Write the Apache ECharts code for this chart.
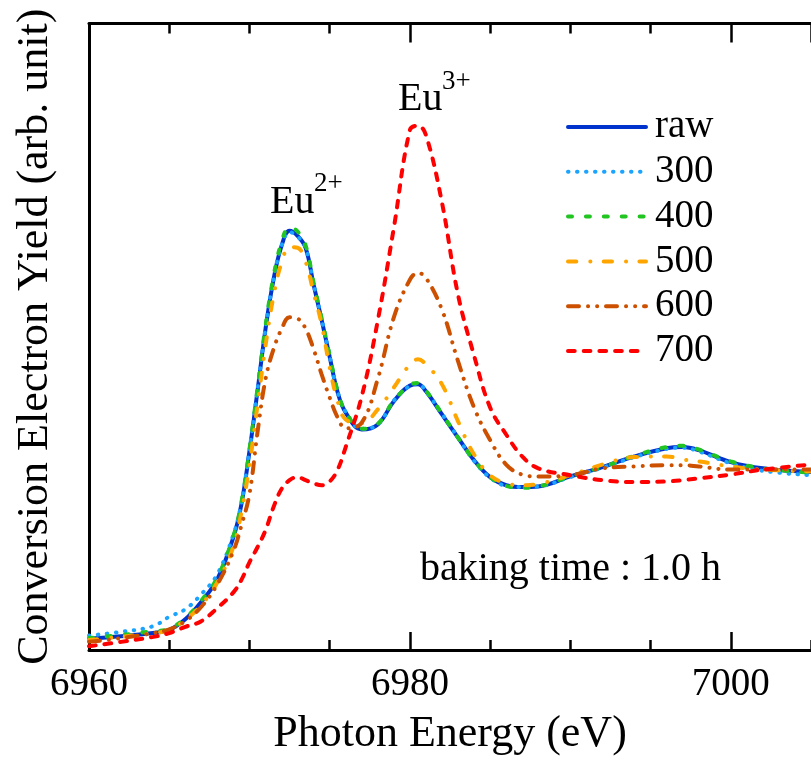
<!DOCTYPE html>
<html>
<head>
<meta charset="utf-8">
<title>Conversion Electron Yield</title>
<style>html,body{margin:0;padding:0;background:#fff;}</style>
</head>
<body>
<div id="main" style="width:811px;height:761px;"></div>
<script src="https://cdn.jsdelivr.net/npm/echarts@6/dist/echarts.min.js"></script>
<script>
// photon energy (eV), shared by all curves
var energy = [6960, 6962, 6964, 6965, 6966, 6967, 6968, 6969, 6969.5, 6970,
  6970.5, 6971, 6971.5, 6972, 6972.5, 6973, 6973.5, 6974, 6974.5, 6975,
  6975.5, 6976, 6977, 6978, 6979, 6980, 6980.5, 6981, 6982, 6983,
  6984, 6985, 6986, 6987, 6988, 6990, 6992, 6994, 6996, 6997,
  6998, 7000, 7002, 7005];

// yield (arb. unit)
var raw = [1.8, 2.2, 2.7, 3.2, 4.9, 7.7, 11.3, 18.0, 23.3, 31.7,
  41.3, 51.2, 59.1, 64.5, 66.9, 66.1, 64.2, 58.3, 52.7, 46.8,
  41.1, 37.9, 35.2, 36.0, 39.7, 42.2, 42.4, 41.3, 37.6, 33.9,
  30.3, 27.6, 26.3, 26.0, 26.1, 27.7, 29.2, 30.9, 32.2, 32.4,
  31.9, 30.0, 29.0, 28.4];
var b300 = [2.3, 2.9, 3.8, 5.3, 6.5, 8.9, 12.1, 18.4, 23.5, 31.9,
  41.5, 51.3, 59.2, 64.5, 66.7, 66.0, 64.2, 58.4, 52.8, 46.9,
  41.2, 38.0, 35.3, 36.0, 39.8, 42.2, 42.5, 41.3, 37.7, 33.9,
  30.2, 27.5, 26.2, 26.0, 26.1, 27.6, 29.1, 30.8, 32.1, 32.3,
  31.7, 29.8, 28.6, 27.9];
var b400 = [1.9, 2.4, 3.0, 3.4, 5.1, 7.9, 11.6, 18.2, 23.6, 32.0,
  41.7, 51.7, 59.6, 65.1, 67.5, 66.8, 64.6, 58.6, 52.9, 47.0,
  41.3, 38.0, 35.3, 36.1, 39.8, 42.3, 42.6, 41.4, 37.7, 33.9,
  30.3, 27.6, 26.2, 25.9, 26.1, 27.7, 29.2, 31.0, 32.4, 32.6,
  32.0, 30.1, 29.0, 28.3];
var b500 = [1.6, 2.1, 2.7, 3.2, 4.8, 7.2, 10.8, 16.5, 22.0, 29.5,
  39.0, 48.5, 56.5, 61.8, 64.3, 64.2, 62.0, 57.0, 52.0, 45.1,
  39.7, 36.8, 36.2, 38.4, 41.9, 45.6, 46.4, 45.6, 42.4, 36.5,
  31.2, 27.9, 26.6, 26.3, 26.5, 27.9, 29.6, 30.8, 30.9, 30.4,
  30.1, 29.3, 28.8, 28.5];
var b600 = [1.3, 1.9, 2.7, 3.3, 4.6, 6.9, 10.5, 15.8, 19.9, 24.9,
  34.7, 43.2, 48.0, 51.2, 53.1, 52.9, 51.3, 48.0, 44.0, 40.3,
  37.1, 35.4, 36.3, 43.3, 53.1, 59.1, 60.2, 59.4, 54.3, 46.1,
  38.7, 33.5, 29.6, 28.0, 27.7, 27.9, 29.0, 29.3, 29.5, 29.5,
  29.3, 28.8, 28.8, 28.8];
var b700 = [0.6, 1.3, 2.1, 2.7, 3.7, 4.6, 6.7, 9.2, 11.2, 14.0,
  16.4, 19.1, 22.8, 25.7, 27.1, 27.6, 27.1, 26.6, 26.3, 26.9,
  28.8, 32.4, 40.5, 52.6, 67.4, 83.0, 83.7, 82.2, 71.4, 56.7,
  47.0, 38.7, 34.4, 30.9, 29.0, 27.9, 27.1, 26.8, 26.9, 27.1,
  27.4, 28.0, 28.8, 29.6];

var names = ['raw', '300', '400', '500', '600', '700'];
var values = [raw, b300, b400, b500, b600, b700];
var colors = ['#0033cc', '#1aa3ff', '#22c422', '#ffa500', '#cc5000', '#ff0000'];
var dashes = ['solid', [0.5, 8.5], [4, 13.9], [8.3, 14, 0.1, 13.3], [11, 9, 0.1, 9, 0.1, 8.8], [6.7, 9]];

var F = 'Liberation Serif';

var series = names.map(function (n, k) {
  return {
    name: n,
    type: 'line',
    xAxisIndex: 0,
    yAxisIndex: 0,
    symbol: 'none',
    smooth: 0.4,
    data: energy.map(function (e, i) { return [e, values[k][i]]; }),
    lineStyle: { color: colors[k], width: 4, type: dashes[k], cap: 'round' },
    itemStyle: { color: colors[k] }
  };
});

function xax(pos, step, tickLen, main) {
  return {
    type: 'value', position: pos, min: 6960, max: 7005, interval: step,
    axisLine: { show: main, onZero: false, lineStyle: { color: '#000', width: 3 } },
    axisTick: { show: true, inside: true, length: tickLen, lineStyle: { color: '#000', width: 2.5 } },
    axisLabel: { show: false },
    splitLine: { show: false }
  };
}

var bottomMajor = xax('bottom', 20, 18, true);
bottomMajor.axisLabel = {
  show: true, margin: 15, fontSize: 39, fontFamily: F, color: '#000', showMaxLabel: false,
  formatter: function (v) { return String(v); }
};
bottomMajor.name = 'Photon Energy (eV)';
bottomMajor.nameLocation = 'middle';
bottomMajor.nameGap = 62;
bottomMajor.nameTextStyle = { fontSize: 44, fontFamily: F, color: '#000' };

var myChart = echarts.init(document.getElementById('main'));
var option = {
  backgroundColor: '#fff',
  animation: false,
  grid: { left: 89, top: 23.5, width: 724, height: 627.5 },
  xAxis: [
    bottomMajor,
    xax('bottom', 5, 10, false),
    xax('top', 20, 19, true),
    xax('top', 5, 10, false)
  ],
  yAxis: {
    type: 'value', min: 0, max: 100,
    axisLine: { show: true, onZero: false, lineStyle: { color: '#000', width: 3 } },
    axisTick: { show: false },
    axisLabel: { show: false },
    splitLine: { show: false },
    name: 'Conversion Electron Yield (arb. unit)',
    nameLocation: 'middle',
    nameGap: 32,
    nameTextStyle: { fontSize: 44, fontFamily: F, color: '#000' }
  },
  legend: {
    orient: 'vertical', left: 561, top: 102.5,
    itemWidth: 78, itemHeight: 39, itemGap: 5.8,
    itemStyle: { opacity: 0 },
    lineStyle: { width: 4 },
    textStyle: { fontSize: 39, fontFamily: F, color: '#000', padding: [0, 0, 0, 4] },
    data: names
  },
  graphic: [
    { type: 'text', x: 270, y: 202.5, style: { text: 'Eu', fontSize: 40, fontFamily: F, fill: '#000', verticalAlign: 'middle' } },
    { type: 'text', x: 314, y: 184, style: { text: '2+', fontSize: 27, fontFamily: F, fill: '#000', verticalAlign: 'middle' } },
    { type: 'text', x: 398, y: 99.5, style: { text: 'Eu', fontSize: 40, fontFamily: F, fill: '#000', verticalAlign: 'middle' } },
    { type: 'text', x: 442, y: 82, style: { text: '3+', fontSize: 27, fontFamily: F, fill: '#000', verticalAlign: 'middle' } },
    { type: 'text', x: 420, y: 569.5, style: { text: 'baking time : 1.0 h', fontSize: 40, fontFamily: F, fill: '#000', verticalAlign: 'middle' } }
  ],
  series: series
};
myChart.setOption(option);
</script>
</body>
</html>
